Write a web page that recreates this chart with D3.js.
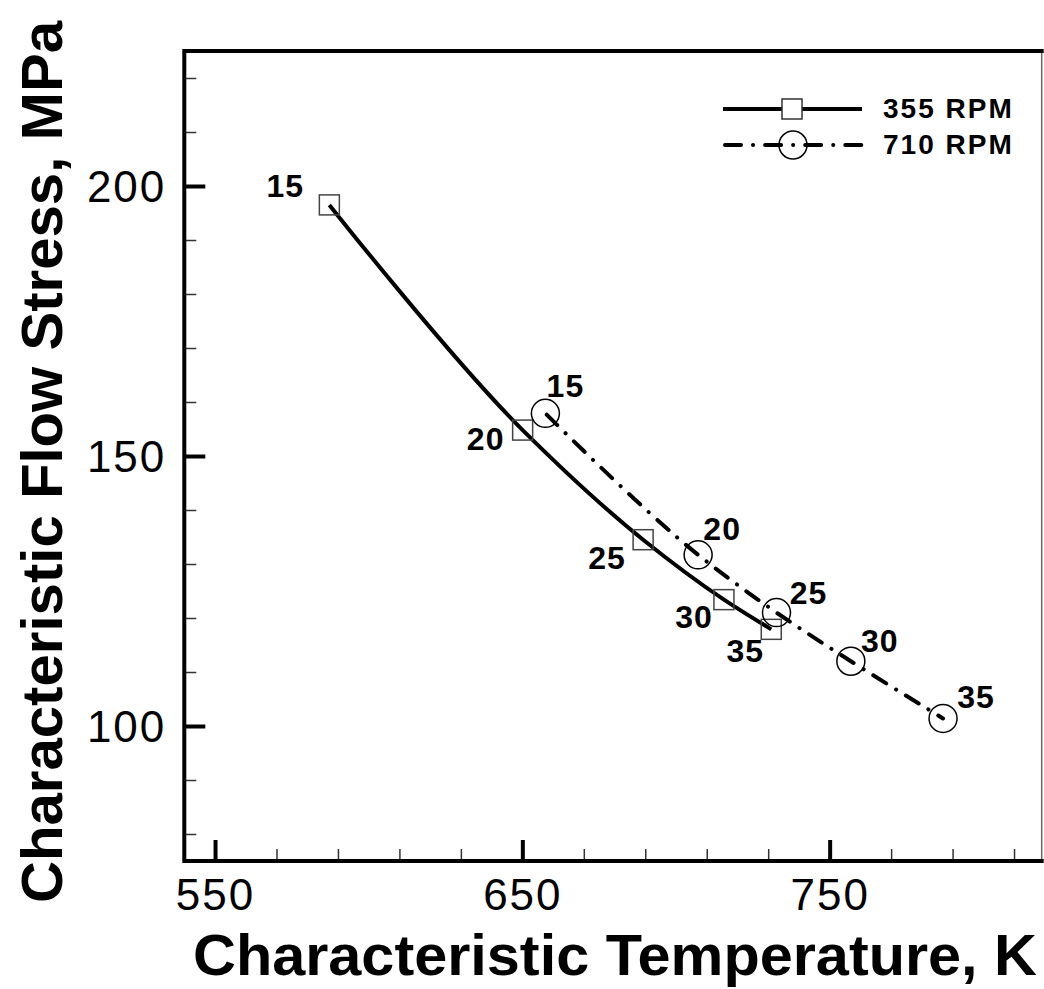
<!DOCTYPE html>
<html>
<head>
<meta charset="utf-8">
<script src="https://cdn.jsdelivr.net/npm/d3@7"></script>
<style>
  body { margin: 0; background: #fff; }
  text { font-family: "Liberation Sans", Arial, sans-serif; }
</style>
</head>
<body>
<div id="chart"></div>
<script>
// data
var tipLabels = ["15", "20", "25", "30", "35"];
var temp355 = [587.2, 650.1, 689.3, 715.6, 731.0];
var stress355 = [196.5, 154.8, 134.5, 123.4, 117.9];
var temp710 = [657.5, 707.2, 732.7, 756.9, 786.9];
var stress710 = [157.9, 131.7, 121.0, 112.0, 101.4];
var seriesNames = ["355 RPM", "710 RPM"];
var xMajor = [550, 650, 750];
var yMajor = [100, 150, 200];

// label placement (dx, dy from the marker)
var off355 = [[-44, -8], [-37, 20], [-36, 29], [-30, 28], [-26, 33]];
var off710 = [[20, -16], [24, -15], [32, -9], [29, -9], [33, -10]];

var svgWidth = 1044;
var svgHeight = 989;

var svg = d3.select("#chart")
  .append("svg")
  .attr("width", svgWidth)
  .attr("height", svgHeight);

var x = d3.scaleLinear().domain([540, 819]).range([184.3, 1041.7]);
var y = d3.scaleLinear().domain([75, 225]).range([861, 51]);

var xMinor = d3.range(570, 819, 20).filter(d => xMajor.indexOf(d) < 0);
var yMinor = d3.range(80, 225, 10).filter(d => yMajor.indexOf(d) < 0);

// minor ticks
svg.append("g")
  .attr("transform", `translate(0, ${y.range()[0]})`)
  .call(d3.axisBottom(x).tickValues(xMinor).tickSize(-12).tickFormat(""))
  .call(g => g.select(".domain").remove())
  .call(g => g.selectAll("line").attr("stroke", "#333").attr("stroke-width", 1.5));

svg.append("g")
  .attr("transform", `translate(${x.range()[0]}, 0)`)
  .call(d3.axisLeft(y).tickValues(yMinor).tickSize(-12).tickFormat(""))
  .call(g => g.select(".domain").remove())
  .call(g => g.selectAll("line").attr("stroke", "#333").attr("stroke-width", 1.5));

// major ticks + labels
var xAxis = svg.append("g")
  .attr("transform", `translate(0, ${y.range()[0]})`)
  .call(d3.axisBottom(x).tickValues(xMajor).tickSize(-21).tickPadding(0))
  .call(g => g.select(".domain").remove());
xAxis.selectAll("line").attr("stroke", "#000").attr("stroke-width", 4);
xAxis.selectAll("text")
  .attr("y", 49)
  .attr("dy", null)
  .attr("fill", "#000")
  .style("font-size", "44px")
  .style("letter-spacing", "2px");

var yAxis = svg.append("g")
  .attr("transform", `translate(${x.range()[0]}, 0)`)
  .call(d3.axisLeft(y).tickValues(yMajor).tickSize(-21).tickPadding(0))
  .call(g => g.select(".domain").remove());
yAxis.selectAll("line").attr("stroke", "#000").attr("stroke-width", 4);
yAxis.selectAll("text")
  .attr("x", -18)
  .attr("dy", "0.35em")
  .attr("fill", "#000")
  .style("font-size", "44px")
  .style("letter-spacing", "2px");

// frame
svg.append("line")
  .attr("x1", x.range()[1]).attr("x2", x.range()[1])
  .attr("y1", y.range()[1]).attr("y2", y.range()[0])
  .attr("stroke", "#666").attr("stroke-width", 1.5);
svg.append("path")
  .attr("d", `M${x.range()[1] + 2},${y.range()[1]}H${x.range()[0]}V${y.range()[0]}H${x.range()[1] + 2}`)
  .attr("fill", "none")
  .attr("stroke", "#000")
  .attr("stroke-width", 4);

// curves
var line = d3.line()
  .x(d => x(d[0]))
  .y(d => y(d[1]))
  .curve(d3.curveCatmullRom.alpha(1));

var pts355 = temp355.map((t, i) => [t, stress355[i]]);
var pts710 = temp710.map((t, i) => [t, stress710[i]]);

svg.append("path")
  .datum(pts355)
  .attr("d", line)
  .attr("fill", "none")
  .attr("stroke", "#000")
  .attr("stroke-width", 4);

svg.append("path")
  .datum(pts710)
  .attr("d", line)
  .attr("fill", "none")
  .attr("stroke", "#000")
  .attr("stroke-width", 4)
  .attr("stroke-linecap", "round")
  .attr("stroke-dasharray", "15,11.5,0.1,11.5")
  .attr("stroke-dashoffset", -2);

// markers
svg.selectAll(".sq")
  .data(pts355)
  .enter()
  .append("rect")
  .attr("x", d => x(d[0]) - 10)
  .attr("y", d => y(d[1]) - 10)
  .attr("width", 20)
  .attr("height", 20)
  .attr("fill", "none")
  .attr("stroke", "#444")
  .attr("stroke-width", 1.5);

svg.selectAll(".ci")
  .data(pts710)
  .enter()
  .append("circle")
  .attr("cx", d => x(d[0]))
  .attr("cy", d => y(d[1]))
  .attr("r", 14)
  .attr("fill", "none")
  .attr("stroke", "#000")
  .attr("stroke-width", 1.5);

// point labels
svg.selectAll(".lab355")
  .data(pts355)
  .enter()
  .append("text")
  .attr("x", (d, i) => x(d[0]) + off355[i][0])
  .attr("y", (d, i) => y(d[1]) + off355[i][1])
  .attr("text-anchor", "middle")
  .style("font-size", "32px")
  .style("font-weight", "bold")
  .style("letter-spacing", "1px")
  .text((d, i) => tipLabels[i]);

svg.selectAll(".lab710")
  .data(pts710)
  .enter()
  .append("text")
  .attr("x", (d, i) => x(d[0]) + off710[i][0])
  .attr("y", (d, i) => y(d[1]) + off710[i][1])
  .attr("text-anchor", "middle")
  .style("font-size", "32px")
  .style("font-weight", "bold")
  .style("letter-spacing", "1px")
  .text((d, i) => tipLabels[i]);

// legend
var legend = svg.append("g");
legend.append("line")
  .attr("x1", 723).attr("x2", 862).attr("y1", 109).attr("y2", 109)
  .attr("stroke", "#000").attr("stroke-width", 4);
legend.append("rect")
  .attr("x", 782).attr("y", 99).attr("width", 20).attr("height", 20)
  .attr("fill", "#fff").attr("stroke", "#333").attr("stroke-width", 1.5);
legend.append("line")
  .attr("x1", 725).attr("x2", 862).attr("y1", 145).attr("y2", 145)
  .attr("stroke", "#000").attr("stroke-width", 4)
  .attr("stroke-linecap", "round")
  .attr("stroke-dasharray", "16,12,0.1,12");
legend.append("circle")
  .attr("cx", 793).attr("cy", 145).attr("r", 14)
  .attr("fill", "none").attr("stroke", "#000").attr("stroke-width", 1.5);
legend.selectAll(".lt")
  .data(seriesNames)
  .enter()
  .append("text")
  .attr("x", 883)
  .attr("y", (d, i) => 118 + i * 36)
  .style("font-size", "28px")
  .style("font-weight", "bold")
  .style("letter-spacing", "2px")
  .text(d => d);

// axis titles
svg.append("text")
  .attr("x", 193)
  .attr("y", 975)
  .attr("textLength", 844)
  .attr("lengthAdjust", "spacingAndGlyphs")
  .style("font-size", "58px")
  .style("font-weight", "bold")
  .text("Characteristic Temperature, K");

svg.append("text")
  .attr("transform", "translate(62, 903) rotate(-90)")
  .attr("x", 0)
  .attr("y", 0)
  .attr("textLength", 882)
  .attr("lengthAdjust", "spacingAndGlyphs")
  .style("font-size", "58px")
  .style("font-weight", "bold")
  .text("Characteristic Flow Stress, MPa");
</script>
</body>
</html>
